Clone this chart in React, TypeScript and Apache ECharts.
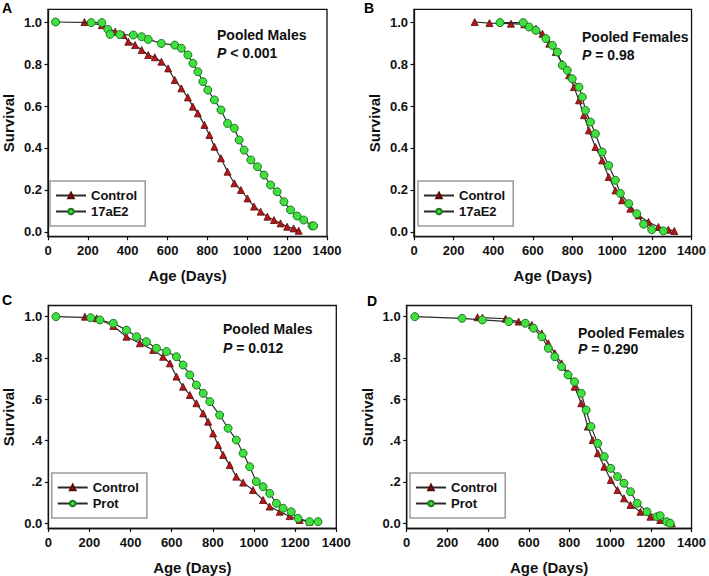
import React, { useEffect, useRef } from "react";
import * as echarts from "echarts";

// ---------- data ----------
const xTicks = [0, 200, 400, 600, 800, 1000, 1200, 1400];
const yTickValues = [0, 0.2, 0.4, 0.6, 0.8, 1.0];
const yTickLabelsTop = ["0.0", "0.2", "0.4", "0.6", "0.8", "1.0"];
const yTickLabelsBottom = ["0.0", ".2", ".4", ".6", ".8", "1.0"];

// Panel A: pooled males, Control vs 17aE2
const aControlDays = [183, 270, 337, 378, 403, 437, 470, 503, 536, 569, 603, 636, 669, 702, 727, 752, 785, 810, 835, 868, 901, 935, 968, 1001, 1034, 1067, 1101, 1134, 1167, 1200, 1233, 1258];
const aControlSurv = [1.0, 0.985, 0.954, 0.938, 0.906, 0.89, 0.867, 0.843, 0.832, 0.811, 0.779, 0.724, 0.684, 0.641, 0.597, 0.565, 0.51, 0.462, 0.406, 0.351, 0.287, 0.232, 0.2, 0.16, 0.121, 0.097, 0.073, 0.057, 0.041, 0.025, 0.017, 0.006];
const aE2Days = [38, 217, 270, 300, 312, 360, 428, 470, 503, 569, 636, 669, 702, 727, 752, 777, 802, 835, 868, 901, 935, 959, 984, 1018, 1051, 1084, 1117, 1150, 1184, 1217, 1250, 1283, 1325, 1333];
const aE2Surv = [1.0, 0.997, 0.997, 0.965, 0.941, 0.94, 0.938, 0.93, 0.917, 0.898, 0.89, 0.875, 0.843, 0.803, 0.763, 0.716, 0.676, 0.629, 0.581, 0.517, 0.494, 0.438, 0.39, 0.343, 0.311, 0.271, 0.224, 0.192, 0.144, 0.105, 0.076, 0.057, 0.029, 0.029];

// Panel B: pooled females, Control vs 17aE2
const bControlDays = [306, 381, 489, 556, 615, 648, 682, 715, 748, 782, 807, 832, 857, 882, 915, 949, 982, 1016, 1049, 1091, 1133, 1183, 1233, 1283, 1313];
const bControlSurv = [1.0, 0.995, 0.992, 0.989, 0.968, 0.944, 0.897, 0.857, 0.802, 0.746, 0.69, 0.627, 0.556, 0.484, 0.405, 0.341, 0.262, 0.198, 0.151, 0.111, 0.079, 0.048, 0.024, 0.011, 0.005];
const bE2Days = [434, 551, 581, 615, 665, 698, 723, 748, 773, 798, 832, 849, 865, 890, 915, 949, 982, 1016, 1041, 1083, 1124, 1158, 1199, 1258];
const bE2Surv = [0.997, 0.997, 0.976, 0.96, 0.921, 0.889, 0.857, 0.794, 0.77, 0.73, 0.69, 0.643, 0.579, 0.524, 0.468, 0.381, 0.317, 0.246, 0.184, 0.135, 0.087, 0.037, 0.011, 0.005];

// Panel C: pooled males, Control vs Prot
const cControlDays = [178, 235, 316, 380, 445, 510, 558, 591, 623, 655, 688, 720, 753, 777, 801, 825, 850, 882, 914, 947, 995, 1044, 1076, 1125, 1173, 1222, 1270];
const cControlSurv = [1.0, 0.992, 0.955, 0.903, 0.871, 0.839, 0.806, 0.774, 0.71, 0.661, 0.621, 0.581, 0.532, 0.492, 0.435, 0.379, 0.331, 0.282, 0.226, 0.197, 0.161, 0.113, 0.081, 0.056, 0.035, 0.016, 0.008];
const cProtDays = [37, 206, 251, 316, 380, 429, 477, 526, 575, 623, 655, 688, 720, 753, 785, 833, 874, 914, 947, 979, 1011, 1044, 1076, 1109, 1141, 1181, 1214, 1270, 1311];
const cProtSurv = [1.0, 0.995, 0.984, 0.968, 0.935, 0.903, 0.879, 0.847, 0.831, 0.806, 0.766, 0.718, 0.669, 0.629, 0.589, 0.524, 0.46, 0.403, 0.339, 0.274, 0.202, 0.177, 0.145, 0.097, 0.073, 0.056, 0.024, 0.008, 0.008];

// Panel D: pooled females, Control vs Prot
const dControlDays = [348, 372, 486, 550, 615, 664, 696, 728, 761, 793, 825, 858, 890, 914, 939, 971, 1003, 1036, 1068, 1100, 1149, 1198, 1246, 1303];
const dControlSurv = [0.997, 0.995, 0.99, 0.976, 0.96, 0.919, 0.871, 0.823, 0.774, 0.726, 0.661, 0.581, 0.468, 0.403, 0.339, 0.274, 0.21, 0.161, 0.121, 0.089, 0.056, 0.032, 0.016, 0.0];
const dProtDays = [40, 272, 372, 502, 583, 623, 664, 696, 728, 761, 793, 825, 858, 882, 906, 939, 971, 1003, 1036, 1068, 1100, 1133, 1181, 1230, 1246, 1278, 1295];
const dProtSurv = [1.0, 0.992, 0.984, 0.976, 0.968, 0.944, 0.903, 0.847, 0.806, 0.758, 0.718, 0.685, 0.629, 0.548, 0.468, 0.387, 0.323, 0.266, 0.226, 0.194, 0.153, 0.097, 0.056, 0.032, 0.037, 0.008, 0.0];

const panelLetters = ["A", "B", "C", "D"];
const panelTitles = ["Pooled Males", "Pooled Females", "Pooled Males", "Pooled Females"];
const panelPText = ["< 0.001", "= 0.98", "= 0.012", "= 0.290"];
const treatmentNames = ["17aE2", "17aE2", "Prot", "Prot"];

const FONT = 'Arial, "Liberation Sans", Helvetica, sans-serif';

function zip(xs: number[], ys: number[]) {
  return xs.map((x, i) => [x, ys[i]]);
}

export default function App() {
  const ref = useRef<HTMLDivElement>(null);

  useEffect(() => {
    if (!ref.current) return;
    const chart = echarts.init(ref.current, undefined, { renderer: "svg" });

    const grids = [
      { left: 45.7, top: 9.3, width: 281.3, height: 227.4, ymin: -0.0224, ymax: 1.0605 },
      { left: 414, top: 9.3, width: 280, height: 227.4, ymin: -0.0224, ymax: 1.0605 },
      { left: 48.3, top: 305.5, width: 288, height: 223, ymin: -0.025, ymax: 1.054 },
      { left: 406.7, top: 305.5, width: 288, height: 223, ymin: -0.025, ymax: 1.054 },
    ];
    const controlData = [
      zip(aControlDays, aControlSurv),
      zip(bControlDays, bControlSurv),
      zip(cControlDays, cControlSurv),
      zip(dControlDays, dControlSurv),
    ];
    const treatData = [
      zip(aE2Days, aE2Surv),
      zip(bE2Days, bE2Surv),
      zip(cProtDays, cProtSurv),
      zip(dProtDays, dProtSurv),
    ];
    const legendPos = [
      { left: 50, top: 181 },
      { left: 418, top: 181 },
      { left: 51.7, top: 473 },
      { left: 410, top: 473 },
    ];
    const titlePos = [
      { x: 217, y1: 34.5, y2: 52.5 },
      { x: 582, y1: 37, y2: 55 },
      { x: 223, y1: 329, y2: 347.5 },
      { x: 578, y1: 332.5, y2: 349 },
    ];
    const letterPos = [
      { x: 2, y: 8 },
      { x: 364, y: 8 },
      { x: 2, y: 300 },
      { x: 367, y: 301 },
    ];

    const axisLabelStyle = {
      color: "#111",
      fontSize: 13,
      fontWeight: "bold" as const,
      fontFamily: FONT,
    };

    const lineStyle = { color: "#2b2b2b", width: 1.2 };
    const series: any[] = [];
    for (let i = 0; i < 4; i++) {
      series.push({
        type: "line",
        name: "Control",
        xAxisIndex: i,
        yAxisIndex: i,
        data: controlData[i],
        symbol: "triangle",
        symbolSize: 7,
        showAllSymbol: true,
        lineStyle,
        itemStyle: { color: "#b3171a", borderColor: "#5a0a0a", borderWidth: 0.8 },
        z: 2,
      });
      series.push({
        type: "line",
        name: treatmentNames[i],
        xAxisIndex: i,
        yAxisIndex: i,
        data: treatData[i],
        symbol: "circle",
        symbolSize: 8,
        showAllSymbol: true,
        lineStyle,
        itemStyle: { color: "#3fe03f", borderColor: "#1f7a1f", borderWidth: 1 },
        z: 3,
      });
    }

    const graphics: any[] = [];
    for (let i = 0; i < 4; i++) {
      graphics.push({
        type: "text",
        x: letterPos[i].x,
        y: letterPos[i].y,
        style: {
          text: panelLetters[i],
          fontSize: 14,
          fontWeight: "bold",
          fontFamily: FONT,
          fill: "#000",
          verticalAlign: "middle",
        },
      });
      graphics.push({
        type: "text",
        x: titlePos[i].x,
        y: titlePos[i].y1,
        style: {
          text: panelTitles[i],
          fontSize: 14,
          fontWeight: "bold",
          fontFamily: FONT,
          fill: "#111",
          verticalAlign: "middle",
        },
      });
      graphics.push({
        type: "text",
        x: titlePos[i].x,
        y: titlePos[i].y2,
        style: {
          text: "{i|P} " + panelPText[i],
          fontSize: 14,
          fontWeight: "bold",
          fontFamily: FONT,
          fill: "#111",
          verticalAlign: "middle",
          rich: {
            i: {
              fontStyle: "italic",
              fontWeight: "bold",
              fontSize: 14,
              fontFamily: FONT,
              fill: "#111",
            },
          },
        },
      });
    }

    const option: any = {
      animation: false,
      backgroundColor: "#fff",
      grid: grids.map((g) => ({
        left: g.left,
        top: g.top,
        width: g.width,
        height: g.height,
        show: true,
        borderColor: "#111",
        borderWidth: 1.3,
        backgroundColor: "transparent",
      })),
      xAxis: grids.map((g, i) => ({
        type: "value",
        gridIndex: i,
        min: xTicks[0],
        max: xTicks[xTicks.length - 1],
        interval: 200,
        axisLine: { show: true, onZero: false, lineStyle: { color: "#111", width: 1.3 } },
        axisTick: { show: true, length: 3.5, lineStyle: { color: "#111", width: 1.2 } },
        axisLabel: { ...axisLabelStyle, margin: 7, formatter: (v: number) => String(v) },
        splitLine: { show: false },
        name: "Age (Days)",
        nameLocation: "middle",
        nameGap: 31,
        nameTextStyle: { color: "#111", fontSize: 15, fontWeight: "bold", fontFamily: FONT },
      })),
      yAxis: grids.map((g, i) => {
        const labels = i < 2 ? yTickLabelsTop : yTickLabelsBottom;
        return {
          type: "value",
          gridIndex: i,
          min: g.ymin,
          max: g.ymax,
          axisLine: { show: true, onZero: false, lineStyle: { color: "#111", width: 1.3 } },
          axisTick: {
            show: true,
            length: 3.5,
            customValues: yTickValues,
            lineStyle: { color: "#111", width: 1.2 },
          },
          axisLabel: {
            ...axisLabelStyle,
            margin: 6,
            customValues: yTickValues,
            formatter: (v: number) => {
              const idx = Math.round(v * 5);
              return labels[idx] ?? "";
            },
          },
          splitLine: { show: false },
          name: "Survival",
          nameLocation: "middle",
          nameGap: 32,
          nameRotate: 90,
          nameTextStyle: { color: "#111", fontSize: 15, fontWeight: "bold", fontFamily: FONT },
        };
      }),
      legend: legendPos.map((p, i) => ({
        left: p.left,
        top: p.top,
        orient: "vertical",
        data: ["Control", treatmentNames[i]],
        itemWidth: 30,
        itemHeight: 7,
        itemGap: 3,
        padding: [8, 8, 8, 5],
        borderColor: "#9a9a9a",
        borderWidth: 1.5,
        backgroundColor: "#fff",
        selectedMode: false,
        textStyle: { color: "#111", fontSize: 13, fontWeight: "bold", fontFamily: FONT },
      })),
      series,
      graphic: graphics,
    };

    chart.setOption(option);
    return () => chart.dispose();
  }, []);

  return (
    <div
      ref={ref}
      style={{ position: "absolute", left: 0, top: 0, width: 709, height: 576 }}
    />
  );
}
